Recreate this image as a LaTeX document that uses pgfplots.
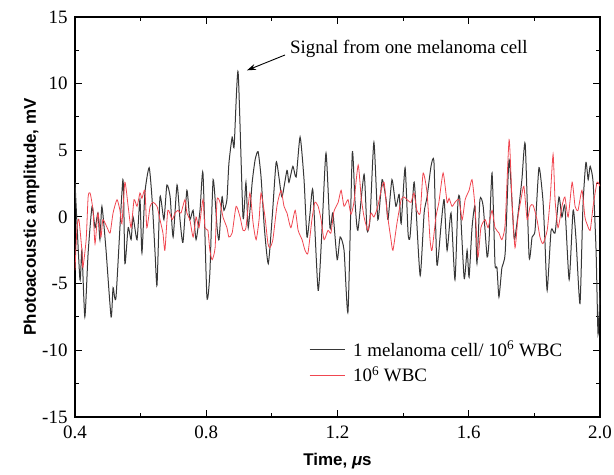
\documentclass[border=0pt]{standalone}
\usepackage{fontspec}
\setmainfont{Liberation Serif}
\setsansfont{Liberation Sans}
\usepackage{pgfplots}
\pgfplotsset{compat=1.18}
\usetikzlibrary{arrows.meta}
\definecolor{celltrace}{RGB}{55,55,55}
\definecolor{wbcred}{RGB}{240,70,80}

\begin{document}
\begin{tikzpicture}
\begin{axis}[
  scale only axis,
  width=525bp, height=400bp,
  xmin=0.4, xmax=2.0, ymin=-15, ymax=15,
  xtick={0.4,0.8,...,2.0}, ytick={-15,-10,...,15},
  minor x tick num=1, minor y tick num=1,
  tick align=inside, tick pos=both,
  major tick length=7bp, minor tick length=4bp,
  axis line style={line width=1.1bp},
  every tick/.style={black, line width=1bp},
  /pgf/number format/assume math mode=true,
  xticklabel style={yshift=-5bp, /pgf/number format/.cd, fixed, fixed zerofill, precision=1},
  yticklabel style={xshift=-4bp},
  ticklabel style={font=\fontsize{19}{22}\selectfont},
  xlabel={Time, {\itshape μ}s},
  ylabel={Photoacoustic amplitude, mV},
  label style={font=\fontsize{17}{20}\selectfont\sffamily\bfseries},
  xlabel style={yshift=-8bp},
  ylabel style={yshift=-4bp},
  legend style={draw=none, fill=none, at={(0.44,0.2)}, anchor=north west,
    font=\fontsize{19}{22}\selectfont, row sep=5bp},
  legend cell align=left,
  legend image code/.code={\draw[#1] (0bp,0bp) -- (35bp,0bp); \path (41bp,0bp);},
  clip=true,
]
\addplot[celltrace, line width=1.0bp, smooth, tension=0.35] coordinates {
(0.400,2.6) (0.415,-4.7) (0.421,-2.5) (0.430,-7.5) (0.440,-2.7) (0.452,0.8)
(0.461,-0.8) (0.470,0.3) (0.476,-1.7) (0.482,0.8) (0.494,-2.3) (0.510,-7.5)
(0.516,-5.3) (0.525,-6.0) (0.546,2.8) (0.552,-3.5) (0.562,-0.8) (0.571,-1.7)
(0.577,0.0) (0.589,-1.7) (0.598,1.3) (0.604,-2.7) (0.613,1.8) (0.626,3.7)
(0.635,1.3) (0.644,-2.7) (0.650,-5.1) (0.659,1.5) (0.671,-0.2) (0.680,2.4)
(0.690,1.5) (0.699,-1.5) (0.711,2.4) (0.720,-0.2) (0.729,-1.9) (0.741,2.0)
(0.750,-0.2) (0.760,0.5) (0.769,-1.7) (0.781,0.5) (0.790,3.3) (0.802,-6.0)
(0.811,-4.2) (0.821,2.8) (0.833,-0.8) (0.839,-1.7) (0.848,1.5) (0.854,0.5)
(0.863,1.3) (0.869,4.0) (0.879,6.0) (0.885,5.3) (0.897,10.9) (0.912,0.0)
(0.921,2.6) (0.928,-0.8) (0.940,2.6) (0.949,4.3) (0.958,4.9) (0.967,3.0)
(0.977,-0.8) (0.989,-3.5) (1.001,0.0) (1.013,4.1) (1.022,2.9) (1.031,1.5)
(1.046,3.5) (1.052,2.6) (1.064,3.8) (1.074,3.0) (1.086,6.0) (1.098,2.8)
(1.107,-1.5) (1.116,0.2) (1.125,2.0) (1.141,-5.5) (1.153,-0.8) (1.165,4.8)
(1.177,-0.8) (1.186,0.3) (1.199,-3.2) (1.208,-1.5) (1.220,-2.5) (1.232,-7.1)
(1.245,4.8) (1.253,1.3) (1.262,-1.0) (1.281,3.2) (1.290,-1.0) (1.299,-0.2)
(1.311,5.6) (1.323,-0.2) (1.336,2.8) (1.348,1.3) (1.354,-0.2) (1.366,2.8)
(1.378,0.8) (1.388,1.7) (1.394,-0.5) (1.406,3.7) (1.415,-1.2) (1.421,-1.5)
(1.433,2.6) (1.439,0.8) (1.452,-4.4) (1.464,0.3) (1.473,1.5) (1.485,3.8)
(1.494,4.1) (1.503,-3.6) (1.516,-0.5) (1.525,1.3) (1.534,-2.5) (1.546,0.3)
(1.558,-4.7) (1.567,1.1) (1.573,1.3) (1.586,-4.6) (1.595,-2.5) (1.601,-4.5)
(1.610,-0.8) (1.619,0.8) (1.625,-3.5) (1.634,1.3) (1.644,0.8) (1.656,-3.0)
(1.662,-1.7) (1.671,3.3) (1.680,-3.5) (1.686,-3.8) (1.692,-6.0) (1.701,-3.8)
(1.711,-2.7) (1.723,4.3) (1.738,-1.5) (1.744,-1.0) (1.753,0.8) (1.762,2.8)
(1.772,5.5) (1.784,-3.0) (1.793,-1.5) (1.802,-1.0) (1.814,3.7) (1.826,1.3)
(1.832,-1.7) (1.839,-5.5) (1.851,-1.0) (1.863,-1.2) (1.875,1.5) (1.884,0.0)
(1.893,0.8) (1.906,-4.7) (1.918,0.5) (1.927,-1.7) (1.939,-6.5) (1.948,0.8)
(1.957,4.1) (1.964,2.8) (1.970,3.8) (1.979,2.6) (1.988,-2.5) (1.994,-8.8)
(2.000,-5.5)
};
\addlegendentry{1 melanoma cell/ 10\textsuperscript{6} WBC}
\addplot[wbcred, line width=0.8bp, smooth, tension=0.35] coordinates {
(0.400,-4.0) (0.406,-0.8) (0.412,-0.2) (0.421,-2.5) (0.424,-3.8) (0.434,-1.7)
(0.440,1.5) (0.446,1.8) (0.455,0.5) (0.461,-2.0) (0.470,0.3) (0.479,-1.5)
(0.485,-0.2) (0.498,-0.8) (0.507,-1.2) (0.516,0.3) (0.528,1.3) (0.537,0.5)
(0.543,-0.5) (0.552,2.6) (0.562,0.8) (0.571,-0.8) (0.580,1.3) (0.589,0.8)
(0.598,1.8) (0.604,1.4) (0.613,2.0) (0.619,-0.8) (0.629,0.8) (0.638,1.1)
(0.650,0.8) (0.659,-0.2) (0.668,-1.2) (0.674,-2.5) (0.683,0.5) (0.696,-0.2)
(0.705,0.3) (0.714,0.5) (0.723,0.3) (0.735,1.3) (0.741,0.3) (0.750,-0.2)
(0.760,-1.5) (0.769,0.0) (0.778,-0.8) (0.790,1.3) (0.796,-0.8) (0.805,-1.0)
(0.811,-2.5) (0.818,-3.2) (0.827,-2.3) (0.833,1.3) (0.842,1.1) (0.851,0.0)
(0.863,-0.8) (0.869,-1.5) (0.879,-1.2) (0.891,0.8) (0.903,0.0) (0.912,-1.0)
(0.921,-0.8) (0.933,1.8) (0.943,-0.5) (0.952,-1.7) (0.961,-0.2) (0.967,1.8)
(0.979,0.0) (0.988,-2.0) (0.994,-2.3) (1.003,-1.7) (1.016,0.9) (1.028,2.0)
(1.037,0.8) (1.046,0.3) (1.058,-0.8) (1.071,0.5) (1.080,-1.0) (1.092,-1.7)
(1.101,-2.5) (1.110,-2.7) (1.122,-0.2) (1.131,1.1) (1.141,0.8) (1.150,-0.2)
(1.159,-1.7) (1.171,-1.0) (1.180,-1.2) (1.189,0.4) (1.202,1.1) (1.211,2.0)
(1.220,0.8) (1.232,1.3) (1.241,0.2) (1.250,1.1) (1.263,3.9) (1.272,1.5)
(1.281,0.0) (1.293,-1.0) (1.302,0.3) (1.311,0.0) (1.323,0.8) (1.333,2.0)
(1.342,2.6) (1.351,0.4) (1.363,-1.7) (1.369,-2.5) (1.381,-0.5) (1.394,1.3)
(1.403,1.5) (1.412,1.3) (1.424,1.1) (1.433,1.8) (1.442,0.5) (1.452,0.3)
(1.461,3.3) (1.473,1.8) (1.482,-1.7) (1.488,-2.5) (1.500,0.0) (1.509,1.1)
(1.522,3.3) (1.534,1.1) (1.540,1.4) (1.549,0.8) (1.558,1.1) (1.570,1.3)
(1.580,-0.2) (1.589,1.3) (1.601,2.0) (1.610,2.8) (1.619,0.8) (1.628,-3.0)
(1.637,-0.8) (1.650,-0.2) (1.659,-0.8) (1.671,0.5) (1.680,-0.8) (1.692,-1.2)
(1.701,-1.7) (1.711,-0.5) (1.723,5.8) (1.732,1.1) (1.741,-2.3) (1.750,0.0)
(1.759,1.3) (1.768,2.3) (1.778,-0.2) (1.787,0.8) (1.796,0.9) (1.808,-0.2)
(1.817,-1.5) (1.826,-2.0) (1.839,-1.0) (1.848,1.3) (1.857,4.7) (1.863,1.3)
(1.872,-0.8) (1.884,0.8) (1.893,1.5) (1.903,0.0) (1.915,2.6) (1.924,0.8)
(1.933,0.5) (1.945,2.0) (1.954,0.0) (1.960,-0.5) (1.970,-1.0) (1.979,0.8)
(1.991,2.6) (2.000,2.3)
};
\addlegendentry{10\textsuperscript{6} WBC}
\node[anchor=west, font=\fontsize{19}{22}\selectfont, inner sep=0pt]
  at (axis cs:1.055,12.6) {Signal from one melanoma cell};
\draw[-{Stealth[length=9bp,width=6bp]}, line width=0.9bp]
  (axis cs:1.040,12.15) -- (axis cs:0.924,11.0);
\end{axis}
\pgfresetboundingbox
\path[use as bounding box] (current axis.south west) ++(-75bp,-58bp)
  rectangle ([xshift=14bp,yshift=17bp]current axis.north east);
\end{tikzpicture}
\end{document}
